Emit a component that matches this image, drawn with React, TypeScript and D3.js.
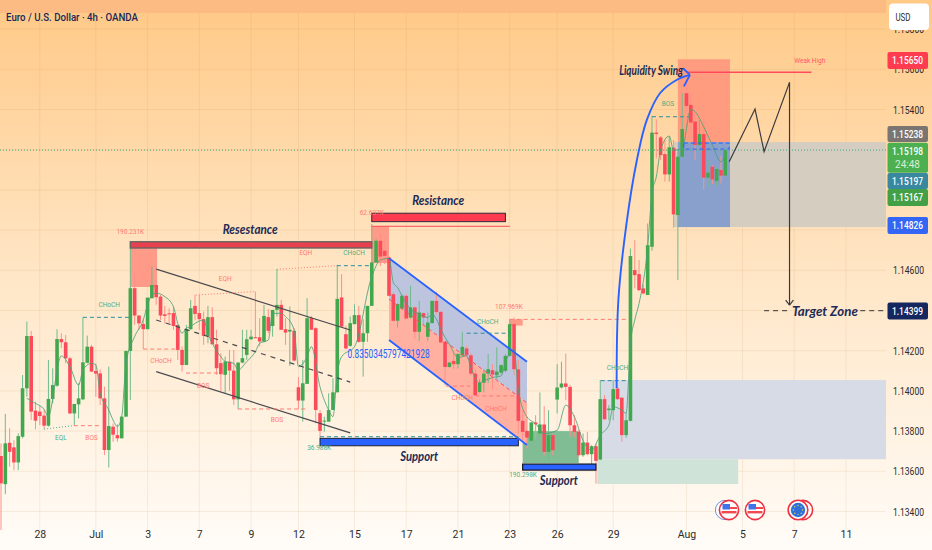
import React, { useEffect, useRef } from "react";
import * as d3 from "d3";

/* ───────────────── candles (EUR/USD 4h) ───────────────── */
const opens = [
  1.13676,1.13536,1.13742,1.13719,1.13644,1.13772,1.14013,1.14273,1.13902,1.13897,
  1.13877,1.13827,1.13960,1.14026,1.14258,1.14242,1.14162,1.13888,1.13933,1.13958,
  1.14140,1.14220,1.14099,1.14087,1.13963,1.13706,1.13822,1.13780,1.13764,1.13872,
  1.14199,1.14511,1.14375,1.14333,1.14307,1.14461,1.14527,1.14469,1.14381,1.14386,
  1.14387,1.14328,1.14204,1.14129,1.14307,1.14423,1.14387,1.14357,1.14274,1.14367,
  1.14232,1.14138,1.14080,1.14146,1.14101,1.13958,1.14141,1.14179,1.14257,1.14267,
  1.14267,1.14246,1.14367,1.14323,1.14403,1.14428,1.14307,1.14295,1.14299,1.14018,
  1.13952,1.14035,1.14362,1.14312,1.13889,1.13847,1.13847,1.13905,1.13993,1.14465,
  1.14282,1.14224,1.14332,1.14377,1.14244,1.14287,1.14423,1.14639,1.14747,1.14697,
  1.14664,1.14481,1.14349,1.14410,1.14473,1.14365,1.14415,1.14294,1.14387,1.14269,
  1.14337,1.14448,1.14393,1.14244,1.14119,1.14149,1.14133,1.14177,1.14211,1.14177,
  1.14086,1.13995,1.14041,1.14086,1.14103,1.14078,1.14091,1.14100,1.14174,1.14332,
  1.14107,1.13851,1.13801,1.13752,1.13843,1.13788,1.13833,1.13697,1.13780,1.13957,
  1.14017,1.14037,1.14020,1.13829,1.13796,1.13680,1.13743,1.13685,1.13725,1.13659,
  1.13959,1.13904,1.13904,1.14012,1.13966,1.13780,1.13851,1.14601,1.14581,1.14510,
  1.14477,1.14717,1.15285,1.15261,1.15178,1.15077,1.15210,1.14875,1.15165,1.15481,
  1.15423,1.15340,1.15223,1.15278,1.15061,1.15115,1.15044,1.15099,1.15071,
];
const highs = [
  1.13739,1.13885,1.13814,1.13755,1.13789,1.14079,1.14345,1.14298,1.13946,1.13925,
  1.13908,1.14154,1.14112,1.14307,1.14287,1.14278,1.14170,1.13935,1.14038,1.14366,
  1.14275,1.14229,1.14137,1.14107,1.14021,1.14121,1.13838,1.13835,1.13872,1.14199,
  1.14743,1.14582,1.14375,1.14356,1.14464,1.14619,1.14552,1.14477,1.14423,1.14411,
  1.14420,1.14328,1.14221,1.14328,1.14453,1.14478,1.14478,1.14395,1.14423,1.14416,
  1.14304,1.14187,1.14171,1.14204,1.14204,1.14141,1.14304,1.14304,1.14304,1.14494,
  1.14362,1.14428,1.14407,1.14403,1.14606,1.14453,1.14362,1.14420,1.14312,1.14068,
  1.14154,1.14461,1.14373,1.14317,1.13905,1.13872,1.13988,1.14063,1.14627,1.14581,
  1.14324,1.14370,1.14431,1.14423,1.14357,1.14423,1.14830,1.14755,1.14780,1.14763,
  1.14670,1.14490,1.14436,1.14481,1.14481,1.14523,1.14423,1.14448,1.14390,1.14390,
  1.14448,1.14493,1.14398,1.14249,1.14141,1.14187,1.14188,1.14294,1.14225,1.14187,
  1.14108,1.14058,1.14108,1.14183,1.14133,1.14216,1.14133,1.14183,1.14357,1.14365,
  1.14153,1.13904,1.13871,1.13843,1.13879,1.13992,1.13924,1.13904,1.13788,1.14133,
  1.14145,1.14186,1.14030,1.13879,1.13805,1.13788,1.13796,1.13730,1.13738,1.14054,
  1.13979,1.13929,1.14054,1.14020,1.13970,1.13888,1.14709,1.14750,1.14651,1.14530,
  1.14833,1.15368,1.15351,1.15268,1.15248,1.15268,1.15248,1.15200,1.15481,1.15530,
  1.15481,1.15381,1.15348,1.15344,1.15149,1.15122,1.15110,1.15169,1.15205,
];
const lows = [
  1.13307,1.13486,1.13623,1.13606,1.13606,1.13764,1.13971,1.13855,1.13809,1.13830,
  1.13809,1.13822,1.13938,1.14021,1.14212,1.14137,1.13885,1.13830,1.13863,1.13955,
  1.14137,1.14096,1.13971,1.13930,1.13681,1.13619,1.13747,1.13747,1.13764,1.13872,
  1.13955,1.14328,1.14303,1.14209,1.14307,1.14461,1.14428,1.14353,1.14336,1.14336,
  1.14304,1.14154,1.14096,1.14129,1.14304,1.14353,1.14304,1.14229,1.14237,1.14232,
  1.14080,1.14000,1.13988,1.14000,1.13930,1.13910,1.14138,1.14154,1.14254,1.14262,
  1.14221,1.14241,1.14287,1.14270,1.14370,1.14304,1.14229,1.14124,1.14146,1.13909,
  1.13847,1.14035,1.14304,1.13839,1.13764,1.13797,1.13847,1.13905,1.13993,1.14320,
  1.14207,1.14220,1.14332,1.14240,1.14071,1.14244,1.14423,1.14639,1.14622,1.14631,
  1.14473,1.14344,1.14315,1.14405,1.14360,1.14360,1.14257,1.14249,1.14325,1.14249,
  1.14337,1.14382,1.14238,1.14028,1.14115,1.14108,1.14111,1.14170,1.14166,1.14075,
  1.13975,1.13990,1.13992,1.14038,1.14008,1.14058,1.14085,1.14092,1.14170,1.14078,
  1.13788,1.13755,1.13713,1.13748,1.13763,1.13785,1.13680,1.13652,1.13680,1.13888,
  1.14012,1.13954,1.13771,1.13771,1.13672,1.13672,1.13680,1.13625,1.13539,1.13655,
  1.13855,1.13854,1.13854,1.13955,1.13747,1.13766,1.13848,1.14510,1.14498,1.14480,
  1.14477,1.14697,1.15157,1.15149,1.15041,1.15041,1.14812,1.14551,1.15163,1.15389,
  1.15265,1.15149,1.15149,1.15003,1.15012,1.15029,1.15019,1.15032,1.15068,
];
const closes = [
  1.13540,1.13739,1.13697,1.13644,1.13775,1.14013,1.14273,1.13897,1.13852,1.13875,
  1.13827,1.13960,1.14029,1.14258,1.14242,1.14162,1.13888,1.13935,1.13963,1.14142,
  1.14220,1.14096,1.14086,1.13963,1.13706,1.13825,1.13782,1.13764,1.13872,1.14199,
  1.14511,1.14375,1.14336,1.14307,1.14464,1.14527,1.14466,1.14375,1.14373,1.14383,
  1.14323,1.14204,1.14129,1.14307,1.14411,1.14383,1.14357,1.14274,1.14367,1.14232,
  1.14113,1.14083,1.14146,1.14101,1.13958,1.14141,1.14163,1.14257,1.14270,1.14265,
  1.14246,1.14373,1.14299,1.14403,1.14428,1.14304,1.14290,1.14304,1.14151,1.13952,
  1.14038,1.14362,1.14304,1.13905,1.13801,1.13852,1.13905,1.13993,1.14458,1.14320,
  1.14211,1.14337,1.14377,1.14244,1.14287,1.14423,1.14639,1.14747,1.14669,1.14672,
  1.14473,1.14349,1.14432,1.14473,1.14360,1.14415,1.14294,1.14390,1.14365,1.14340,
  1.14448,1.14393,1.14241,1.14119,1.14141,1.14133,1.14183,1.14219,1.14177,1.14086,
  1.13978,1.14041,1.14086,1.14108,1.14081,1.14096,1.14128,1.14174,1.14332,1.14108,
  1.13851,1.13796,1.13768,1.13843,1.13834,1.13833,1.13697,1.13780,1.13705,1.14017,
  1.14037,1.14020,1.13829,1.13796,1.13680,1.13743,1.13685,1.13725,1.13652,1.13959,
  1.13859,1.13912,1.14009,1.13959,1.13780,1.13854,1.14671,1.14576,1.14501,1.14485,
  1.14725,1.15285,1.15278,1.15173,1.15077,1.15212,1.14878,1.15165,1.15303,1.15418,
  1.15335,1.15223,1.15278,1.15061,1.15086,1.15052,1.15104,1.15071,1.15198,
];

/* smoothed moving average, read at the bars where it turns */
const maBars = [6,8,10,11,12,13,14,16,18,19,21,22,23,25,26,27,28,29,31,33,34,35,36,38,40,41,42,43,44,45,47,48,49,51,52,54,55,57,59,60,62,63,65,66,68,69,71,72,74,76,77,78,79,82,86,88,90,91,92,93,95,97,99,100,101,102,104,106,108,109,111,112,114,116,117,118,119,120,122,124,126,129,131,133,135,137,139,141,142,144,145,146,147,148,150,151,152,153,155,156,158,160,161,163,165,167,168];
const maValues = [1.13963,1.13938,1.13908,1.13872,1.13960,1.14104,1.14174,1.14120,1.14029,1.14104,1.14137,1.14129,1.13988,1.13905,1.13855,1.13822,1.13872,1.14137,1.14270,1.14353,1.14428,1.14478,1.14486,1.14469,1.14419,1.14336,1.14287,1.14312,1.14320,1.14336,1.14353,1.14287,1.14237,1.14170,1.14146,1.14137,1.14104,1.14146,1.14195,1.14237,1.14253,1.14386,1.14386,1.14370,1.14303,1.14121,1.14170,1.14220,1.14020,1.13905,1.13872,1.14087,1.14170,1.14220,1.14568,1.14651,1.14659,1.14539,1.14514,1.14473,1.14407,1.14382,1.14365,1.14382,1.14357,1.14307,1.14232,1.14166,1.14174,1.14116,1.14041,1.14050,1.14066,1.14075,1.14141,1.14191,1.14207,1.14003,1.13871,1.13837,1.13788,1.13804,1.13929,1.13871,1.13754,1.13705,1.13780,1.13830,1.13921,1.13904,1.13888,1.14236,1.14352,1.14435,1.14717,1.14982,1.15065,1.15198,1.15268,1.15198,1.15206,1.15400,1.15389,1.15314,1.15223,1.15140,1.15181];

/* ───────────────── axes ───────────────── */
const dateBars = [9,22,34,46,58,69,82,94,106,118,129,142,159,172,184,196];
const dateLabels = ["28","Jul","3","7","9","12","15","17","21","23","26","29","Aug","5","7","11"];
const gridPrices = [1.134,1.136,1.138,1.14,1.142,1.144,1.146,1.148,1.15,1.152,1.154,1.156,1.158];
// the other levels sit fully under the price tags
const priceTicks = [1.134,1.136,1.138,1.14,1.142,1.146,1.154,1.156,1.158];
const lastBar = 205.3; // right edge of the pane

/* ───────────────── drawings, in bar / price ───────────────── */
const greyZone = [156, lastBar, 1.15238, 1.14815];
const demandZone = [139, lastBar, 1.14054, 1.1366];
const paleGreenZone = [138.3, 171, 1.1366, 1.13537];
const greenZone = [121, 134, 1.138, 1.13641];
const salmonZones = [
  [30, 36.2, 1.14711, 1.14517],
  [86, 90, 1.1482, 1.14636],
  [118, 121, 1.14356, 1.14325],
];
const tradeTarget = [157, 169.1, 1.1565, 1.15238];
const tradeStop = [157, 169.1, 1.15238, 1.14815];

const channelBars = [90, 122];
const channelUpper = [1.1466, 1.14145];
const channelMid = [1.14457, 1.1394];
const channelLower = [1.14253, 1.13731];

const blackChannelBars = [36, 81];
const blackUpper = [1.14606, 1.14303];
const blackMid = [1.14353, 1.14044];
const blackLower = [1.14096, 1.13791];

const smcSegments: [number, number, number, number, string][] = [
  [19, 30, 1.14366, 1.14366, "teal"],
  [16.9, 23.4, 1.13827, 1.13827, "red"],
  [33, 40.4, 1.14208, 1.14208, "red"],
  [42.9, 51.5, 1.14089, 1.14089, "red"],
  [55, 71, 1.1391, 1.1391, "red"],
  [77.9, 86.1, 1.14623, 1.14623, "teal"],
  [74, 120, 1.13772, 1.13772, "teal"],
  [118, 145.2, 1.14356, 1.14356, "red"],
  [108, 118, 1.14287, 1.14287, "teal"],
  [103.2, 108.8, 1.14024, 1.14024, "red"],
  [110, 119.6, 1.13975, 1.13975, "red"],
  [139.1, 145.4, 1.14051, 1.14051, "teal"],
  [151, 159.4, 1.15364, 1.15364, "teal"],
];
const smcDotted: [number, number, number, number, string][] = [
  [10, 16.7, 1.1381, 1.13827, "green"],
  [45.2, 58.9, 1.14477, 1.14494, "red"],
  [64, 77.9, 1.14605, 1.14623, "red"],
];
const smcLabels: [string, number, number, string][] = [
  ["CHoCH", 25.1, 1.14427, "green"],
  ["EQL", 13.9, 1.13766, "green"],
  ["BOS", 21, 1.13766, "red"],
  ["CHoCH", 37.1, 1.14149, "red"],
  ["BOS", 46.9, 1.14026, "red"],
  ["EQH", 52, 1.14557, "red"],
  ["BOS", 64, 1.13855, "red"],
  ["EQH", 70.7, 1.14688, "red"],
  ["CHoCH", 81.9, 1.14688, "green"],
  ["36.988K", 73.8, 1.13719, "green"],
  ["107.969K", 117.8, 1.14419, "red"],
  ["CHoCH", 112.9, 1.14344, "green"],
  ["CHoCH", 107, 1.13968, "red"],
  ["CHoCH", 114.8, 1.13913, "red"],
  ["190.298K", 121.1, 1.13585, "green"],
  ["CHoCH", 143, 1.14115, "green"],
  ["BOS", 154.7, 1.15427, "green"],
  ["190.231K", 30, 1.1479, "red"],
  ["62.637K", 86, 1.14885, "red"],
];
const bigLabels: [string, number, number, number][] = [
  ["Resestance", 57.8, 1.14804, 55],
  ["Resistance", 101.4, 1.14946, 52],
  ["Support", 97, 1.13676, 38],
  ["Support", 129.4, 1.13553, 38],
  ["Liquidity Swing", 150.8, 1.15593, 64],
  ["Target Zone", 191.1, 1.14394, 66],
];

const swingArrowBars = [142.8, 143.2, 145.1, 147.5, 149.8, 152.9, 156.7, 159.8];
const swingArrowPrices = [1.14014, 1.14452, 1.14835, 1.15149, 1.15348, 1.15482, 1.15547, 1.15572];
const zigzagBars = [168.9, 174.9, 177, 182.9];
const zigzagPrices = [1.1514, 1.15402, 1.1519, 1.15535];

const priceTags: [string, number, number, string][] = [
  ["1.15650", 60.5, 17, "#FF3B50"],
  ["1.15238", 134, 16, "#7A7570"],
  ["1.15197", 181, 16, "#38889F"],
  ["1.15167", 197.5, 17, "#43A047"],
  ["1.14826", 225.5, 17, "#3366F5"],
  ["1.14399", 311, 17, "#14275E"],
];

const COLORS: Record<string, string> = { red: "#FF7A72", green: "#4FAE84", teal: "#2A8FA0" };
const NAVY = "#1B2A55";

const EurUsdChart: React.FC = () => {
  const svgRef = useRef<SVGSVGElement | null>(null);

  useEffect(() => {
    if (!svgRef.current) return;
    document.body.style.margin = "0";

    const width = 932;
    const height = 550;
    const paneRight = 886;

    const x = d3.scaleLinear().domain([0, 196]).range([1, 846]);
    const y = d3.scaleLinear().domain([1.134, 1.154]).range([511.5, 109.5]);

    const root = d3.select(svgRef.current);
    root.selectAll("*").remove();
    root.attr("width", width).attr("height", height).style("display", "block");

    /* ───────────────── background ───────────────── */
    const defs = root.append("defs");
    const grad = defs
      .append("linearGradient")
      .attr("id", "paneBg")
      .attr("x1", 0)
      .attr("y1", 0)
      .attr("x2", 0)
      .attr("y2", 1);
    grad.append("stop").attr("offset", "0%").attr("stop-color", "#FFC986");
    grad.append("stop").attr("offset", "50%").attr("stop-color", "#FFE6C6");
    grad.append("stop").attr("offset", "100%").attr("stop-color", "#FFFCF8");
    defs
      .append("clipPath")
      .attr("id", "paneClip")
      .append("rect")
      .attr("width", paneRight)
      .attr("height", 530);

    root.append("rect").attr("width", width).attr("height", height).attr("fill", "url(#paneBg)");
    root.append("rect").attr("width", paneRight).attr("height", 13).attr("fill", "#FDBB84");

    /* ───────────────── grid ───────────────── */
    const grid = root.append("g").attr("stroke", "#B98A50").attr("stroke-opacity", 0.13);
    grid
      .selectAll("line.h")
      .data(gridPrices)
      .join("line")
      .attr("class", "h")
      .attr("x1", 0)
      .attr("x2", paneRight)
      .attr("y1", (d) => y(d))
      .attr("y2", (d) => y(d));
    grid
      .selectAll("line.v")
      .data(dateBars)
      .join("line")
      .attr("class", "v")
      .attr("x1", (d) => x(d))
      .attr("x2", (d) => x(d))
      .attr("y1", 13)
      .attr("y2", 530);

    const pane = root.append("g").attr("clip-path", "url(#paneClip)");

    const zone = (z: number[], fill: string, opacity = 1) =>
      pane
        .append("rect")
        .attr("x", x(z[0]))
        .attr("width", x(z[1]) - x(z[0]))
        .attr("y", y(z[2]))
        .attr("height", y(z[3]) - y(z[2]))
        .attr("fill", fill)
        .attr("opacity", opacity);

    /* ───────────────── zones under the candles ───────────────── */
    zone(greyZone, "#D6CDC1");
    zone(demandZone, "#D7DBE6");
    zone(paleGreenZone, "#CFE3D8");
    zone(greenZone, "#80BD94");
    salmonZones.forEach((z) => zone(z, "#FF9A88"));
    zone(tradeTarget, "#FF9C80");
    zone(tradeStop, "#8AA0CC");

    const polyArea = d3
      .area<number>()
      .x((_, i) => x(channelBars[i]))
      .y0((_, i) => y(channelMid[i]));
    pane
      .append("path")
      .datum([0, 1])
      .attr("d", polyArea.y1((_, i) => y(channelUpper[i])))
      .attr("fill", "#BCC4DE");
    pane
      .append("path")
      .datum([0, 1])
      .attr("d", polyArea.y1((_, i) => y(channelLower[i])))
      .attr("fill", "#FFB0A1");

    /* ───────────────── candles ───────────────── */
    const candles = pane
      .append("g")
      .selectAll("g")
      .data(opens.map((_, i) => i))
      .join("g");
    candles
      .append("line")
      .attr("x1", (i) => x(i))
      .attr("x2", (i) => x(i))
      .attr("y1", (i) => y(highs[i]))
      .attr("y2", (i) => y(lows[i]))
      .attr("stroke", (i) => (closes[i] >= opens[i] ? "#6FBB8B" : "#FF9089"))
      .attr("stroke-width", 1);
    candles
      .append("rect")
      .attr("x", (i) => x(i) - 1.8)
      .attr("width", 3.6)
      .attr("y", (i) => y(Math.max(opens[i], closes[i])))
      .attr("height", (i) => Math.max(1, Math.abs(y(opens[i]) - y(closes[i]))))
      .attr("fill", (i) => (closes[i] >= opens[i] ? "#42A84E" : "#FB4A5A"));

    /* ───────────────── moving average ───────────────── */
    const maLine = d3
      .line<number>()
      .x((d) => x(d))
      .y((_, i) => y(maValues[i]))
      .curve(d3.curveMonotoneX);
    pane
      .append("path")
      .attr("d", maLine(maBars))
      .attr("fill", "none")
      .attr("stroke", "#4E9F78")
      .attr("stroke-opacity", 0.85)
      .attr("stroke-width", 1);

    /* ───────────────── bars and trend lines ───────────────── */
    const outlinedBar = (z: number[], fill: string, stroke: string, sw: number) =>
      zone(z, fill).attr("stroke", stroke).attr("stroke-width", sw);
    outlinedBar([30, 86, 1.14742, 1.14711], "#E8404F", "#6B6460", 1.4);
    outlinedBar([86, 117, 1.14884, 1.14842], "#FF3B50", "#2B2B3A", 1);
    outlinedBar([74, 120, 1.13764, 1.13727], "#2962FF", "#1C2233", 1);
    outlinedBar([121, 138, 1.13636, 1.13606], "#2962FF", "#14171F", 1.2);

    const seg = (b0: number, b1: number, p0: number, p1: number) =>
      pane
        .append("line")
        .attr("x1", x(b0))
        .attr("x2", x(b1))
        .attr("y1", y(p0))
        .attr("y2", y(p1));

    seg(blackChannelBars[0], blackChannelBars[1], blackUpper[0], blackUpper[1])
      .attr("stroke", "#4A4A50").attr("stroke-width", 1.2);
    seg(blackChannelBars[0], blackChannelBars[1], blackLower[0], blackLower[1])
      .attr("stroke", "#4A4A50").attr("stroke-width", 1.2);
    seg(blackChannelBars[0], blackChannelBars[1], blackMid[0], blackMid[1])
      .attr("stroke", "#4A4A50").attr("stroke-width", 1.2).attr("stroke-dasharray", "5 5");
    seg(channelBars[0], channelBars[1], channelUpper[0], channelUpper[1])
      .attr("stroke", "#2962FF").attr("stroke-width", 1.8);
    seg(channelBars[0], channelBars[1], channelLower[0], channelLower[1])
      .attr("stroke", "#2962FF").attr("stroke-width", 1.8);
    seg(channelBars[0], channelBars[1], channelMid[0], channelMid[1])
      .attr("stroke", "#F0505A").attr("stroke-width", 1).attr("stroke-dasharray", "4 3");

    smcSegments.forEach((s) =>
      seg(s[0], s[1], s[2], s[3])
        .attr("stroke", COLORS[s[4]])
        .attr("stroke-width", 1)
        .attr("stroke-dasharray", "4 3")
    );
    smcDotted.forEach((s) =>
      seg(s[0], s[1], s[2], s[3])
        .attr("stroke", COLORS[s[4]])
        .attr("stroke-width", 1)
        .attr("stroke-dasharray", "1 2")
    );
    seg(86, 118, 1.14819, 1.14819).attr("stroke", "#FF4A5A").attr("stroke-width", 1);
    seg(159, 188, 1.15585, 1.15585).attr("stroke", "#FF4A5E").attr("stroke-width", 1.4);

    // dashed box over the entry
    zone([158.4, 168.9, 1.15233, 1.15203], "none")
      .attr("stroke", "#2962FF")
      .attr("stroke-width", 1)
      .attr("stroke-dasharray", "4 3");

    // last price
    pane
      .append("line")
      .attr("x1", 0)
      .attr("x2", paneRight)
      .attr("y1", y(closes[closes.length - 1]))
      .attr("y2", y(closes[closes.length - 1]))
      .attr("stroke", "#3DA97E")
      .attr("stroke-dasharray", "1 2");

    /* ───────────────── projected path ───────────────── */
    const zigzag = d3
      .line<number>()
      .x((d) => x(d))
      .y((_, i) => y(zigzagPrices[i]));
    pane
      .append("path")
      .attr("d", zigzag(zigzagBars))
      .attr("fill", "none")
      .attr("stroke", "#3A3A3E")
      .attr("stroke-width", 1.2);
    seg(182.9, 182.9, 1.15535, 1.14427).attr("stroke", "#3A3A3E").attr("stroke-width", 1.2);
    seg(182, 182.9, 1.14452, 1.14427).attr("stroke", "#3A3A3E").attr("stroke-width", 1.2);
    seg(183.8, 182.9, 1.14452, 1.14427).attr("stroke", "#3A3A3E").attr("stroke-width", 1.2);
    seg(177, 182.6, 1.14399, 1.14399).attr("stroke", "#333").attr("stroke-dasharray", "5 4");
    seg(199.3, lastBar, 1.14399, 1.14399).attr("stroke", "#333").attr("stroke-dasharray", "5 4");

    /* ───────────────── liquidity arrow ───────────────── */
    const swing = d3
      .line<number>()
      .x((d) => x(d))
      .y((_, i) => y(swingArrowPrices[i]))
      .curve(d3.curveCatmullRom);
    pane
      .append("path")
      .attr("d", swing(swingArrowBars))
      .attr("fill", "none")
      .attr("stroke", "#2962FF")
      .attr("stroke-width", 1.9);
    seg(158.2, 159.8, 1.15605, 1.15572).attr("stroke", "#2962FF").attr("stroke-width", 1.9);
    seg(158.4, 159.8, 1.15515, 1.15572).attr("stroke", "#2962FF").attr("stroke-width", 1.9);

    /* ───────────────── labels ───────────────── */
    const chartText = root.append("g").style("font-family", "Roboto, sans-serif");
    chartText
      .selectAll("text.smc")
      .data(smcLabels)
      .join("text")
      .attr("x", (d) => x(d[1]))
      .attr("y", (d) => y(d[2]))
      .attr("dy", "0.35em")
      .attr("text-anchor", "middle")
      .attr("font-size", 6.5)
      .attr("fill", (d) => COLORS[d[3]])
      .text((d) => d[0]);

    root
      .append("g")
      .selectAll("text")
      .data(bigLabels)
      .join("text")
      .attr("x", (d) => x(d[1]))
      .attr("y", (d) => y(d[2]))
      .attr("dy", "0.35em")
      .attr("text-anchor", "middle")
      .attr("textLength", (d) => d[3])
      .attr("lengthAdjust", "spacingAndGlyphs")
      .style("font-family", "Lato, sans-serif")
      .style("font-style", "italic")
      .style("font-weight", 700)
      .attr("font-size", 13)
      .attr("fill", NAVY)
      .text((d) => d[0]);

    root
      .append("text")
      .attr("x", x(89.9))
      .attr("y", y(1.14184))
      .attr("dy", "0.35em")
      .attr("text-anchor", "middle")
      .attr("textLength", 82)
      .attr("lengthAdjust", "spacingAndGlyphs")
      .style("font-family", "Roboto, sans-serif")
      .attr("font-size", 12)
      .attr("fill", "#2962FF")
      .text("0.8350345797421928");

    root
      .append("text")
      .attr("x", x(187.6))
      .attr("y", y(1.15643))
      .attr("dy", "0.35em")
      .attr("text-anchor", "middle")
      .style("font-family", "Roboto, sans-serif")
      .attr("font-size", 6.5)
      .attr("fill", "#FF5A6A")
      .text("Weak High");

    root
      .append("text")
      .attr("x", 6)
      .attr("y", 17)
      .attr("dy", "0.35em")
      .attr("textLength", 132)
      .attr("lengthAdjust", "spacingAndGlyphs")
      .style("font-family", "Roboto, sans-serif")
      .style("font-weight", 500)
      .attr("font-size", 11)
      .attr("fill", "#1A2657")
      .text("Euro / U.S. Dollar · 4h · OANDA");

    /* ───────────────── event badges ───────────────── */
    const badges = root.append("g");
    const usBadge = (cx: number) => {
      const g = badges.append("g").attr("transform", `translate(${cx},510)`);
      g.append("circle").attr("r", 9.6).attr("fill", "#fff").attr("stroke", "#F0303F").attr("stroke-width", 1.6);
      g.append("rect").attr("x", -6.5).attr("y", -6).attr("width", 7.5).attr("height", 5.5).attr("fill", "#3F73E8");
      g.append("rect").attr("x", 1).attr("y", -3).attr("width", 7).attr("height", 2).attr("fill", "#F04A50");
      g.append("rect").attr("x", -7.5).attr("y", 1).attr("width", 15).attr("height", 2.4).attr("fill", "#F04A50");
    };
    badges.append("circle").attr("cx", 725).attr("cy", 510).attr("r", 9.6).attr("fill", "#fff").attr("stroke", "#6F8FE0").attr("stroke-width", 1);
    usBadge(729);
    usBadge(755);
    badges.append("circle").attr("cx", 803).attr("cy", 510).attr("r", 9.6).attr("fill", "#fff").attr("stroke", "#F0303F").attr("stroke-width", 1.6);
    const eu = badges.append("g").attr("transform", "translate(798,510)");
    eu.append("circle").attr("r", 9.8).attr("fill", "#fff").attr("stroke", "#F0303F").attr("stroke-width", 1.6);
    eu.append("circle").attr("r", 7.2).attr("fill", "#2E6FD8");
    eu.selectAll("circle.star")
      .data(d3.range(8))
      .join("circle")
      .attr("class", "star")
      .attr("r", 0.7)
      .attr("fill", "#E8D84A")
      .attr("cx", (d) => 4.6 * Math.cos((d * Math.PI) / 4))
      .attr("cy", (d) => 4.6 * Math.sin((d * Math.PI) / 4));

    /* ───────────────── axes ───────────────── */
    const yAxis = root
      .append("g")
      .attr("transform", "translate(886,0)")
      .call(
        d3
          .axisRight(y)
          .tickValues(priceTicks)
          .tickSize(0)
          .tickPadding(7)
          .tickFormat((d) => d3.format(".5f")(d as number))
      );
    yAxis.select(".domain").remove();
    yAxis
      .selectAll("text")
      .attr("textLength", 31)
      .attr("lengthAdjust", "spacingAndGlyphs")
      .attr("font-size", 11)
      .attr("fill", "#2B2B2B")
      .style("font-family", "Roboto, sans-serif");

    const xAxis = root
      .append("g")
      .attr("transform", "translate(0,527)")
      .call(
        d3
          .axisBottom(x)
          .tickValues(dateBars)
          .tickSize(0)
          .tickPadding(4)
          .tickFormat((_, i) => dateLabels[i])
      );
    xAxis.select(".domain").remove();
    xAxis
      .selectAll("text")
      .attr("font-size", 10.5)
      .attr("fill", "#2B2B2B")
      .style("font-family", "Roboto, sans-serif");

    /* ───────────────── price tags ───────────────── */
    const tags = root.append("g").style("font-family", "Roboto, sans-serif");
    const tagText = (g: any, label: string, cy: number, color: string) =>
      g
        .append("text")
        .attr("x", 907.5)
        .attr("y", cy)
        .attr("dy", "0.35em")
        .attr("text-anchor", "middle")
        .attr("textLength", 31)
        .attr("lengthAdjust", "spacingAndGlyphs")
        .attr("font-size", 11)
        .style("font-weight", 500)
        .attr("fill", color)
        .text(label);

    priceTags.forEach(([label, cy, h, color]) => {
      tags
        .append("rect")
        .attr("x", 887.5)
        .attr("y", cy - h / 2)
        .attr("width", 40.5)
        .attr("height", h)
        .attr("rx", 2)
        .attr("fill", color);
      tagText(tags, label, cy, "#fff");
    });
    tags
      .append("rect")
      .attr("x", 887.5)
      .attr("y", 142.7)
      .attr("width", 40.5)
      .attr("height", 30)
      .attr("rx", 2)
      .attr("fill", "#4CAF50");
    tagText(tags, "1.15198", 151, "#fff");
    tags
      .append("text")
      .attr("x", 907.5)
      .attr("y", 164.5)
      .attr("dy", "0.35em")
      .attr("text-anchor", "middle")
      .attr("font-size", 10)
      .attr("fill", "#D8EFD8")
      .text("24:48");

    /* ───────────────── currency button ───────────────── */
    root
      .append("rect")
      .attr("x", 889)
      .attr("y", 3.5)
      .attr("width", 40)
      .attr("height", 26.5)
      .attr("rx", 4)
      .attr("fill", "#fff");
    root
      .append("text")
      .attr("x", 903)
      .attr("y", 17)
      .attr("dy", "0.35em")
      .attr("text-anchor", "middle")
      .attr("textLength", 15)
      .attr("lengthAdjust", "spacingAndGlyphs")
      .attr("font-size", 10.5)
      .attr("fill", "#2B2B2B")
      .style("font-family", "Roboto, sans-serif")
      .text("USD");
  }, []);

  return <svg ref={svgRef} />;
};

export default function App() {
  return <EurUsdChart />;
}
